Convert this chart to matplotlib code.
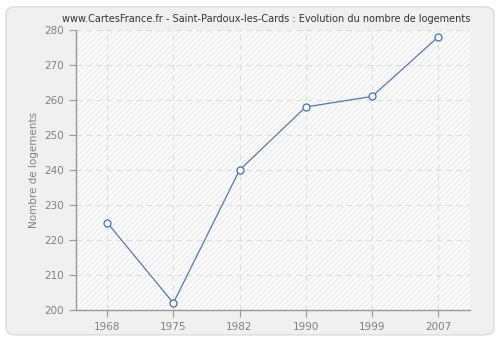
import matplotlib
matplotlib.use("Agg")
import matplotlib.pyplot as plt
from matplotlib.patches import FancyBboxPatch, Rectangle

# --- data ---
years = ["1968", "1975", "1982", "1990", "1999", "2007"]
logements = [225, 202, 240, 258, 261, 278]
y_ticks = [200, 210, 220, 230, 240, 250, 260, 270, 280]

LINE_COLOR = "#4f7cae"
TEXT_COLOR = "#808080"

plt.rcParams["font.family"] = ["DejaVu Sans"]
plt.rcParams["hatch.linewidth"] = 0.6
plt.rcParams["hatch.color"] = "#e6e6e6"

fig = plt.figure(figsize=(5, 3.4), dpi=100)
fig.patch.set_facecolor("white")

# rounded light-grey frame behind everything
frame = FancyBboxPatch((0.012, 0.015), 0.976, 0.965,
                       boxstyle="round,pad=0,rounding_size=0.02",
                       transform=fig.transFigure, facecolor="#f0f0f0",
                       edgecolor="#dcdcdc", linewidth=1.0, zorder=-5)
fig.patches.append(frame)

ax = fig.add_axes([0.152, 0.088, 0.788, 0.824])
ax.set_zorder(1)
ax.set_facecolor("#fafafa")
ax.add_patch(Rectangle((0, 0), 1, 1, transform=ax.transAxes, facecolor="none",
                       hatch="//////", edgecolor="#e6e6e6", linewidth=0, zorder=0))

x = list(range(len(years)))
ax.plot(x, logements, color=LINE_COLOR, linewidth=0.9, marker="o",
        markersize=5, markerfacecolor="white", markeredgecolor=LINE_COLOR,
        markeredgewidth=1.0, zorder=3, clip_on=False)

ax.set_xlim(-0.47, 5.48)
ax.set_ylim(200, 280)
ax.set_xticks(x)
ax.set_xticklabels(years)
ax.set_yticks(y_ticks)

ax.grid(True, linestyle=(0, (5, 4)), color="#dddddd", linewidth=0.8)
ax.set_axisbelow(True)

for side in ["top", "right"]:
    ax.spines[side].set_visible(False)
for side in ["left", "bottom"]:
    ax.spines[side].set_color("#999999")
    ax.spines[side].set_linewidth(1.0)

ax.tick_params(axis="both", colors="#999999", labelcolor=TEXT_COLOR,
               labelsize=7.5, length=5, width=0.8)
ax.set_ylabel("Nombre de logements", color=TEXT_COLOR, fontsize=7.5)

fig.text(0.532, 0.943,
         "www.CartesFrance.fr - Saint-Pardoux-les-Cards : Evolution du nombre de logements",
         fontsize=7.0, color="#333333", ha="center", va="center")

fig.savefig("out.png", dpi=100)
